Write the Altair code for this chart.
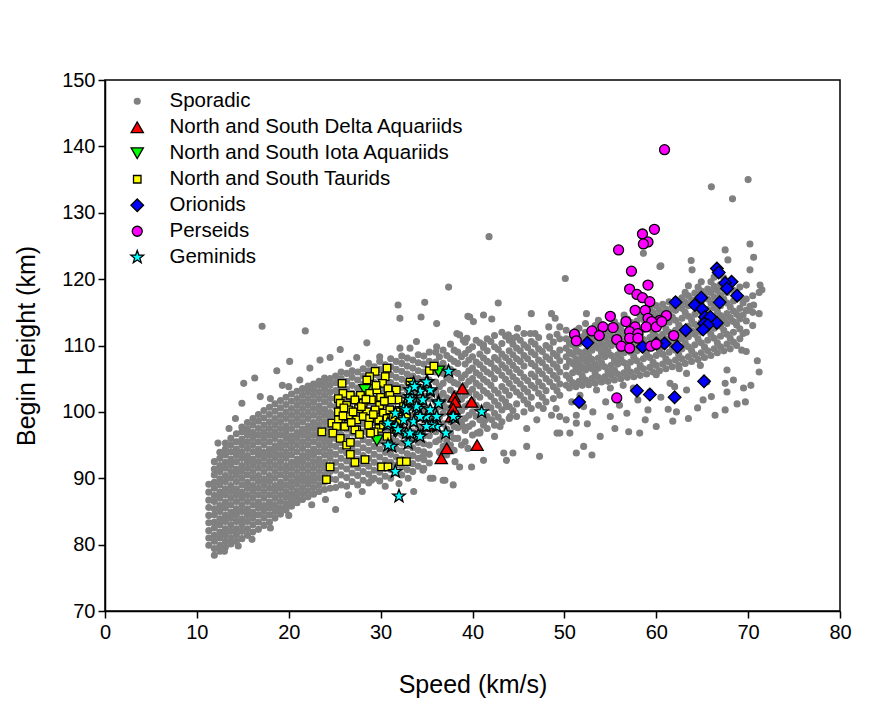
import altair as alt
import pandas as pd

# ------------------------------------------------------------------ data
# Sporadic meteors: dense core read column by column (speed -> heights)
SPORADIC_CORE = {
    11.3: [79.9, 81.0, 82.1, 83.3, 84.4, 85.6, 86.7, 87.9, 89.1],
    11.9: [78.4, 79.4, 80.5, 81.4, 82.5, 83.4, 84.5, 85.4, 86.5, 87.4, 88.5, 89.4, 90.5, 91.4, 92.5],
    12.5: [79.0, 79.9, 81.0, 81.9, 83.0, 83.9, 85.0, 85.9, 87.0, 87.9, 89.0, 89.9, 91.0, 91.9, 93.0, 93.9],
    13.1: [79.6, 80.5, 81.5, 82.4, 83.5, 84.4, 85.5, 86.4, 87.5, 88.4, 89.5, 90.4, 91.5, 92.4, 93.5, 94.4, 95.3],
    13.7: [80.1, 81.0, 82.0, 83.0, 84.0, 84.9, 86.0, 87.0, 88.0, 88.9, 90.0, 91.0, 92.0, 92.9, 94.0, 95.0, 96.0],
    14.3: [80.5, 81.5, 82.4, 83.5, 84.5, 85.4, 86.5, 87.5, 88.4, 89.5, 90.5, 91.4, 92.5, 93.5, 94.4, 95.5, 96.7],
    14.9: [80.9, 82.0, 83.0, 83.9, 85.0, 86.0, 87.0, 87.9, 89.0, 90.0, 91.0, 91.9, 93.0, 94.0, 95.0, 95.9, 97.0, 97.7],
    15.5: [81.4, 82.4, 83.5, 84.5, 85.4, 86.5, 87.5, 88.5, 89.4, 90.5, 91.5, 92.5, 93.4, 94.5, 95.5, 96.5, 97.4, 98.4],
    16.1: [81.9, 83.0, 84.0, 84.9, 86.0, 87.0, 88.0, 88.9, 90.0, 91.0, 92.0, 92.9, 94.0, 95.0, 96.0, 96.9, 98.0, 99.0],
    16.7: [82.3, 83.4, 84.5, 85.5, 86.4, 87.5, 88.5, 89.5, 90.4, 91.5, 92.5, 93.5, 94.4, 95.5, 96.5, 97.5, 98.6, 99.6],
    17.3: [82.9, 84.0, 85.0, 85.9, 87.0, 88.0, 89.0, 89.9, 91.0, 92.0, 93.0, 93.9, 95.0, 96.0, 97.0, 98.0, 99.1, 100.2],
    17.9: [83.4, 84.5, 85.5, 86.4, 87.5, 88.5, 89.5, 90.4, 91.5, 92.5, 93.5, 94.4, 95.5, 96.5, 97.5, 98.5, 99.6, 100.7],
    18.5: [84.0, 85.0, 86.0, 87.0, 88.0, 88.9, 90.0, 91.0, 92.0, 93.0, 94.0, 94.9, 96.0, 97.0, 98.0, 99.0, 100.1, 101.2],
    19.1: [84.6, 85.5, 86.5, 87.5, 88.5, 89.4, 90.5, 91.5, 92.5, 93.5, 94.5, 95.4, 96.5, 97.5, 98.5, 99.5, 100.6, 101.7],
    19.7: [85.2, 86.1, 87.1, 88.0, 89.0, 90.0, 91.0, 91.9, 93.0, 94.0, 95.0, 96.0, 97.0, 97.9, 99.0, 100.0, 101.1, 102.2],
    20.3: [85.8, 86.7, 87.6, 88.6, 89.5, 90.5, 91.5, 92.4, 93.5, 94.5, 95.5, 96.4, 97.5, 98.5, 99.5, 100.5, 101.6, 102.7],
    20.9: [86.3, 87.2, 88.1, 89.1, 90.0, 91.0, 92.0, 92.9, 94.0, 95.0, 96.0, 96.9, 98.0, 99.0, 100.0, 101.0, 102.0, 103.1],
    21.5: [86.8, 87.7, 88.6, 89.6, 90.5, 91.5, 92.5, 93.4, 94.5, 95.5, 96.5, 97.4, 98.5, 99.5, 100.5, 101.5, 102.5, 103.5],
    22.1: [87.2, 88.1, 89.1, 90.0, 91.0, 92.0, 93.0, 93.9, 95.0, 96.0, 97.0, 97.9, 99.0, 100.0, 101.0, 102.0, 103.0, 103.9],
    22.7: [87.6, 88.6, 89.6, 90.5, 91.5, 92.5, 93.5, 94.4, 95.5, 96.5, 97.5, 98.4, 99.5, 100.5, 101.5, 102.5, 103.4, 104.2],
    23.3: [88.0, 89.0, 90.0, 91.0, 92.0, 92.9, 94.0, 95.0, 96.0, 96.9, 98.0, 99.0, 100.0, 100.9, 102.0, 103.0, 104.0, 104.6],
    23.9: [88.3, 89.4, 90.5, 91.5, 92.4, 93.5, 94.5, 95.5, 96.4, 97.5, 98.5, 99.5, 100.4, 101.5, 102.5, 103.5, 104.4, 105.1],
    24.5: [88.5, 89.9, 91.0, 91.9, 93.0, 94.0, 95.0, 95.9, 97.0, 98.0, 99.0, 99.9, 101.0, 102.0, 103.0, 104.0, 105.0],
    25.1: [88.6, 89.8, 91.2, 92.4, 93.6, 94.8, 96.0, 97.2, 98.4, 99.6, 100.8, 102.0, 103.2, 104.4, 105.4],
    25.7: [89.0, 90.5, 91.8, 93.0, 94.2, 95.4, 96.6, 97.8, 99.0, 100.2, 101.4, 102.6, 103.8, 105.0, 106.0],
    26.3: [88.8, 90.1, 91.4, 92.6, 93.8, 95.0, 96.2, 97.4, 98.6, 99.8, 101.0, 102.2, 103.4, 104.6, 105.8],
    26.9: [89.5, 90.8, 92.0, 93.2, 94.4, 95.6, 96.8, 98.0, 99.2, 100.4, 101.6, 102.8, 104.0, 105.2, 106.2],
    27.5: [89.0, 90.4, 91.6, 92.8, 94.0, 95.2, 96.4, 97.6, 98.8, 100.0, 101.2, 102.4, 103.6, 104.8, 106.0],
    28.1: [89.7, 91.0, 92.2, 93.4, 94.6, 95.8, 97.0, 98.2, 99.4, 100.6, 101.8, 103.0, 104.2, 105.4, 106.5],
    28.7: [89.3, 90.6, 91.8, 93.0, 94.2, 95.4, 96.6, 97.8, 99.0, 100.2, 101.4, 102.6, 103.8, 105.0, 106.2, 107.3],
    29.3: [90.0, 91.2, 92.4, 93.6, 94.8, 96.0, 97.2, 98.4, 99.6, 100.8, 102.0, 103.2, 104.4, 105.6, 106.8],
    29.9: [89.6, 90.9, 92.0, 93.2, 94.4, 95.6, 96.8, 98.0, 99.2, 100.4, 101.6, 102.8, 104.0, 105.2, 106.4, 107.6],
    30.5: [90.3, 91.5, 92.7, 93.9, 95.1, 96.3, 97.5, 98.7, 99.9, 101.1, 102.3, 103.5, 104.7, 105.9, 107.1],
    31.1: [90.0, 91.3, 92.4, 93.6, 94.8, 96.0, 97.2, 98.4, 99.6, 100.8, 102.0, 103.2, 104.4, 105.6, 106.8, 108.0],
    31.7: [90.8, 92.0, 93.2, 94.4, 95.6, 96.8, 98.0, 99.2, 100.4, 101.6, 102.8, 104.0, 105.2, 106.4, 107.6],
    32.3: [90.5, 91.7, 92.9, 94.1, 95.3, 96.5, 97.7, 98.9, 100.1, 101.3, 102.5, 103.7, 104.9, 106.1, 107.3, 108.4],
    32.9: [91.3, 92.5, 93.7, 94.9, 96.1, 97.3, 98.5, 99.7, 100.9, 102.1, 103.3, 104.5, 105.7, 106.9, 108.1],
    33.5: [91.0, 92.2, 93.4, 94.6, 95.8, 97.0, 98.2, 99.4, 100.6, 101.8, 103.0, 104.2, 105.4, 106.6, 107.8],
    34.1: [91.8, 93.0, 94.2, 95.4, 96.6, 97.8, 99.0, 100.2, 101.4, 102.6, 103.8, 105.0, 106.2, 107.4, 108.6],
    34.7: [91.5, 92.8, 94.0, 95.2, 96.4, 97.6, 98.8, 100.0, 101.2, 102.4, 103.6, 104.8, 106.0, 107.2, 108.4],
    35.3: [92.3, 93.6, 95.0, 96.4, 97.8, 99.2, 100.6, 102.0, 103.4, 104.8, 106.2, 107.6, 109.0],
}

# Sporadic meteors: looser middle band (speed -> heights)
SPORADIC_MID = {
    36.0: [95.5, 97.0, 98.5, 100.0, 101.5, 103.0, 104.5, 106.0, 107.5, 109.0],
    36.4: [94.0, 95.8, 99.2, 100.8, 102.3, 103.8, 106.8, 108.3],
    36.8: [94.8, 96.5, 98.2, 99.8, 101.3, 102.8, 104.3, 105.8, 107.3, 109.3],
    37.2: [93.5, 95.6, 97.4, 100.6, 102.1, 105.1, 106.6, 108.5],
    37.6: [95.0, 96.8, 98.5, 100.2, 101.8, 103.3, 104.8, 106.4, 108.0, 110.2],
    38.0: [94.2, 96.0, 97.8, 99.5, 102.8, 104.4, 106.0, 107.6, 109.3],
    38.4: [96.0, 97.6, 99.3, 101.0, 102.6, 104.2, 105.8, 107.3, 109.0],
    38.8: [95.0, 98.5, 100.2, 101.9, 103.5, 105.1, 108.3],
    39.2: [95.5, 97.2, 99.0, 100.8, 102.5, 104.0, 105.6, 107.2, 108.8, 110.5],
    39.6: [97.8, 99.5, 101.2, 102.9, 104.6, 106.2, 107.8, 109.4],
    40.0: [96.5, 98.2, 100.0, 101.7, 103.4, 105.0, 106.6, 108.3, 109.8],
    40.4: [99.3, 101.0, 102.6, 104.3, 105.9, 107.5, 110.8],
    40.8: [97.0, 98.8, 100.5, 102.2, 103.9, 105.5, 107.1, 108.7, 110.4],
    41.2: [98.0, 99.8, 103.2, 104.9, 106.5, 108.1, 109.7],
    41.6: [97.5, 99.3, 101.0, 102.8, 104.5, 106.0, 107.6, 109.2, 111.0],
    42.0: [100.6, 102.3, 104.0, 105.7, 107.3, 110.6],
    42.4: [98.0, 99.8, 101.6, 103.3, 105.0, 106.6, 108.2, 109.8, 111.5],
    42.8: [99.2, 101.0, 102.8, 106.2, 107.8, 109.4],
    43.2: [98.5, 100.3, 102.0, 103.8, 105.5, 107.1, 108.7, 110.3, 112.0],
    43.6: [101.5, 103.2, 104.9, 106.6, 108.2, 111.4],
    44.0: [99.0, 100.8, 102.5, 104.3, 106.0, 107.6, 109.2, 110.8],
    44.4: [100.2, 103.6, 105.3, 107.0, 108.6, 110.2],
    44.8: [99.3, 101.2, 103.0, 104.7, 106.4, 108.0, 109.6, 111.3],
    45.2: [102.5, 104.2, 105.9, 107.6, 109.2, 110.8],
    45.6: [100.0, 101.8, 103.5, 105.2, 106.9, 108.5, 110.1, 111.8],
    46.0: [101.2, 103.0, 104.7, 108.0, 109.7],
    46.4: [100.5, 102.2, 104.0, 105.7, 107.3, 109.0, 110.6],
    46.8: [103.6, 105.3, 106.9, 108.6, 110.2, 111.8],
    47.2: [101.0, 102.8, 104.5, 106.2, 107.8, 109.5, 111.2],
    47.6: [102.2, 103.9, 105.7, 107.4, 109.1],
    48.0: [101.5, 103.2, 105.0, 106.7, 108.3, 110.0],
    48.4: [104.5, 106.2, 107.9, 109.6, 111.3],
    48.8: [102.0, 103.8, 105.5, 107.2, 108.8, 110.5],
    49.2: [103.2, 105.0, 106.7, 108.4, 111.7],
    49.5: [102.5, 104.2, 106.0, 107.7, 109.3, 111.0],
}

# Sporadic meteors: fast band (speed -> heights)
SPORADIC_FAST = {
    50.2: [104.0, 105.5, 106.8, 108.3, 109.6, 111.0, 112.3],
    50.55: [103.6, 105.0, 107.6, 109.0, 110.4],
    50.9: [104.4, 105.9, 107.3, 108.7, 110.1, 111.4],
    51.25: [103.8, 106.7, 108.0, 109.5, 112.2],
    51.6: [104.6, 106.0, 107.5, 109.0, 110.3, 112.6],
    51.95: [104.0, 105.4, 106.8, 108.3, 111.3],
    52.3: [104.8, 106.3, 107.7, 109.1, 110.6, 112.0, 113.3],
    52.65: [104.1, 107.0, 108.4, 109.9, 111.4],
    53.0: [105.0, 106.5, 107.9, 109.3, 110.8, 112.2],
    53.35: [104.3, 105.8, 107.2, 110.1, 111.5, 113.0],
    53.7: [105.2, 106.6, 108.1, 109.6, 111.0, 112.5, 113.8],
    54.05: [104.5, 107.4, 108.9, 110.3, 113.2],
    54.4: [105.3, 106.8, 108.3, 109.7, 111.2, 112.6],
    54.75: [104.6, 106.1, 109.1, 110.5, 112.0],
    55.1: [105.5, 107.0, 108.5, 110.0, 111.4, 112.9, 114.2],
    55.45: [104.8, 106.3, 107.8, 110.7, 113.6],
    55.8: [105.7, 107.2, 108.6, 110.1, 111.6, 113.0],
    56.15: [105.0, 108.0, 109.4, 110.9, 112.4],
    56.5: [105.9, 107.4, 108.9, 110.3, 111.8, 113.3, 114.6],
    56.85: [105.2, 106.7, 109.6, 111.1, 114.0],
    57.2: [106.0, 107.5, 109.0, 110.5, 112.0, 113.5],
    57.55: [105.3, 108.3, 109.8, 111.3, 112.8],
    57.9: [106.2, 107.7, 109.2, 110.7, 112.2, 113.7, 115.0],
    58.25: [105.5, 107.0, 110.0, 111.5, 114.5],
    58.6: [106.5, 108.0, 109.4, 110.9, 112.4, 113.9],
    58.95: [105.7, 108.7, 110.2, 113.2, 114.7],
    59.3: [106.7, 108.2, 109.7, 111.2, 112.7, 114.1, 115.5],
    59.65: [106.0, 107.5, 110.5, 112.0, 115.0],
    60.0: [107.0, 108.5, 110.0, 111.4, 112.9, 114.4, 116.0],
    60.35: [106.2, 109.3, 110.8, 113.8, 115.3],
    60.7: [107.2, 108.7, 110.2, 111.7, 113.2, 114.7, 116.2],
    61.05: [106.5, 108.0, 111.0, 112.5, 115.5],
    61.4: [107.5, 109.0, 110.5, 112.0, 113.5, 115.0, 116.6],
    61.75: [106.8, 109.8, 111.3, 114.3, 115.9],
    62.1: [107.8, 109.3, 110.8, 112.3, 113.8, 115.3, 116.9],
    62.45: [107.0, 108.6, 111.6, 113.1, 116.2],
    62.8: [108.0, 109.5, 111.0, 112.6, 114.1, 115.6, 117.2],
    63.15: [107.3, 110.4, 111.9, 115.0, 116.5, 118.0],
    63.5: [108.3, 109.8, 111.3, 112.9, 114.4, 116.0, 117.5, 119.0],
    63.85: [107.6, 109.2, 112.2, 113.8, 116.9],
    64.2: [108.6, 110.1, 111.7, 113.2, 114.7, 116.3, 117.9],
    64.55: [107.9, 111.0, 112.6, 115.6, 117.2, 118.8],
    64.9: [108.9, 110.4, 112.0, 113.5, 115.0, 116.6, 118.2, 119.6],
    65.25: [108.2, 109.8, 112.9, 114.4, 117.6],
    65.6: [109.2, 110.8, 112.3, 113.8, 115.4, 117.0, 118.5],
    65.95: [108.5, 111.7, 113.2, 116.4, 118.0, 119.6],
    66.3: [109.5, 111.1, 112.6, 114.2, 115.7, 117.3, 118.9, 120.3],
    66.65: [108.9, 110.4, 113.6, 115.1, 118.3],
    67.0: [109.8, 111.4, 112.9, 114.5, 116.0, 117.6, 119.2],
    67.35: [109.2, 112.3, 113.9, 117.0, 118.6, 120.2],
    67.7: [110.2, 111.7, 113.3, 114.8, 116.4, 118.0, 119.6],
    68.05: [109.5, 111.1, 114.2, 115.8, 119.0],
    68.4: [110.5, 112.0, 113.6, 115.2, 116.7, 118.3],
    68.75: [110.0, 113.1, 114.7, 117.9],
    69.1: [111.0, 112.5, 114.0, 115.6, 117.2, 118.8],
    69.45: [111.8, 114.6, 116.4],
    69.8: [112.0, 113.7, 115.3, 117.0],
    70.5: [113.0, 115.0, 117.5],
    71.2: [114.8, 118.0],
}

# Sporadic meteors: isolated points (speed, height)
SPORADIC_SCATTER = [
    (17.1, 112.9), (21.8, 112.2), (28.5, 110.4), (25.6, 109.4), (20.1, 107.6), (23.4, 107.8),
    (24.5, 108.2), (18.7, 106.2), (16.3, 105.1), (22.3, 106.6), (27.4, 108.2), (29.9, 108.3),
    (32.1, 109.6), (33.2, 109.6), (16.9, 102.3), (18.0, 102.0), (15.1, 104.3), (14.9, 101.3),
    (12.3, 95.3), (20.0, 103.8), (21.2, 104.8), (13.5, 97.5), (14.2, 99.0), (19.3, 104.0),
    (26.5, 107.3), (31.9, 116.1), (32.1, 114.1), (34.4, 114.3), (34.8, 116.5), (36.1, 113.3),
    (37.4, 118.8), (39.5, 114.4), (41.2, 114.6), (40.1, 113.6), (38.3, 111.8), (39.0, 110.8),
    (41.2, 110.1), (36.1, 109.8), (33.9, 110.6), (41.8, 126.4), (50.1, 120.1), (42.8, 116.4),
    (39.7, 114.3), (42.1, 114.0), (46.4, 114.8), (48.6, 114.8), (49.0, 114.1), (44.9, 112.6),
    (46.3, 111.8), (48.3, 112.8), (49.5, 112.8), (52.4, 114.8), (38.6, 111.6), (39.4, 111.1),
    (43.9, 111.6), (44.4, 111.1),
    (25.1, 85.3), (22.1, 89.2), (29.0, 89.7), (33.6, 88.0), (33.0, 90.0), (34.6, 91.2),
    (35.7, 90.0), (37.0, 89.7), (37.9, 89.0), (38.1, 92.5), (39.9, 91.7), (41.2, 92.7),
    (40.5, 96.8), (41.4, 98.8), (39.0, 97.8), (39.5, 94.5), (36.5, 93.8), (34.6, 93.3),
    (13.0, 79.0), (14.5, 79.8), (16.0, 80.8), (18.0, 82.5), (20.0, 84.4), (22.5, 86.0),
    (24.0, 86.8), (26.5, 87.5), (28.0, 88.0), (30.5, 88.8), (32.0, 89.2), (43.4, 93.8),
    (44.4, 93.8), (45.9, 94.8), (47.3, 93.3), (43.7, 92.7), (38.6, 91.7), (35.4, 90.0),
    (36.8, 89.7), (52.1, 94.8), (51.3, 93.8), (53.0, 93.5), (42.4, 96.3), (40.8, 96.8),
    (45.9, 97.5), (49.2, 96.8), (50.6, 96.8), (51.3, 98.3), (42.1, 98.8), (43.0, 97.8),
    (44.1, 99.3), (47.0, 98.8), (48.6, 99.5), (49.5, 99.3), (50.2, 98.8), (51.3, 99.5),
    (52.1, 100.8), (47.7, 100.5), (41.5, 101.0), (43.7, 100.8),
    (70.0, 135.0), (66.0, 133.9), (68.3, 132.1), (67.5, 124.4), (70.2, 125.3), (70.6, 123.3),
    (67.8, 122.9), (63.8, 122.8), (60.4, 121.9), (70.2, 121.4), (71.3, 119.1), (71.5, 118.4),
    (69.8, 119.1), (70.2, 115.9), (70.6, 116.1), (70.0, 115.3), (69.1, 114.3), (69.3, 109.3),
    (69.8, 109.1), (71.0, 107.7), (69.7, 101.5), (67.5, 100.3), (66.4, 99.5), (63.5, 99.0),
    (63.9, 121.4), (62.2, 100.0), (61.3, 100.4), (59.1, 100.3), (60.0, 97.8), (58.2, 96.8),
    (57.0, 97.0), (53.9, 96.3), (49.5, 96.8), (49.1, 100.5), (59.3, 103.0), (63.3, 103.3),
    (65.1, 101.8), (67.7, 103.0), (68.4, 104.8), (69.5, 103.6), (67.7, 106.3), (67.5, 104.3),
    (63.3, 105.8), (60.0, 105.6), (61.5, 104.3), (55.0, 103.6), (53.5, 103.3), (51.7, 102.5),
    (56.4, 104.0), (57.5, 103.6), (56.8, 99.8), (55.0, 99.3), (53.1, 100.0), (54.5, 101.5),
    (58.0, 101.8), (60.5, 102.2), (62.0, 103.8), (64.5, 100.6), (66.0, 102.3), (68.8, 101.2),
    (70.3, 104.0), (71.2, 106.0), (65.5, 104.5), (61.8, 98.6), (58.8, 98.8), (56.0, 101.0),
    (52.5, 98.2), (55.5, 97.5), (50.8, 101.5), (64.8, 107.0), (62.5, 106.5), (58.6, 123.9),
    (60.5, 122.0),
]

DELTA_AQUARIIDS = [
    (38.9, 103.5), (38.0, 102.3), (38.1, 101.5), (39.9, 101.5), (37.9, 100.5),
    (37.7, 99.3), (35.1, 97.9), (37.2, 94.5), (36.6, 93.0), (40.5, 95.0),
]

IOTA_AQUARIIDS = [
    (36.3, 106.1), (29.6, 95.7), (28.3, 103.3), (31.6, 97.0), (26.1, 99.4),
]

TAURIDS = [
    (30.7, 106.6), (29.4, 106.1), (30.5, 105.3), (28.8, 105.3), (28.5, 104.8), (25.8, 104.3),
    (30.2, 104.3), (31.7, 103.3), (25.9, 102.8), (30.8, 103.5), (25.4, 102.0), (26.7, 102.5),
    (27.8, 102.5), (28.8, 102.8), (29.6, 103.3), (31.0, 102.5), (31.9, 101.8), (25.6, 101.3),
    (26.3, 101.0), (27.2, 101.8), (28.1, 101.3), (29.0, 101.8), (29.9, 101.0), (31.2, 101.8),
    (25.4, 100.0), (26.5, 100.3), (27.6, 100.5), (28.5, 100.0), (29.4, 100.3), (30.3, 99.8),
    (31.0, 100.3), (31.9, 100.0), (24.7, 98.3), (25.4, 98.8), (26.5, 99.3), (27.4, 98.8),
    (28.1, 99.3), (28.8, 99.0), (29.8, 98.8), (30.7, 99.0), (25.2, 97.8), (26.1, 97.8),
    (27.4, 97.3), (28.7, 98.0), (29.8, 97.5), (23.6, 97.0), (24.8, 96.8), (25.6, 96.0),
    (27.2, 97.3), (26.3, 95.0), (26.7, 95.4), (26.7, 93.6), (27.2, 92.4), (28.3, 92.8),
    (24.5, 91.7), (24.1, 89.8), (30.1, 91.7), (30.8, 91.7), (32.2, 92.5), (32.8, 92.5),
    (29.3, 97.0), (30.7, 96.3), (33.2, 104.5), (35.3, 106.2), (35.8, 106.9), (32.5, 100.8),
    (32.8, 99.3), (27.0, 100.0), (27.9, 100.8), (28.4, 101.9), (26.0, 100.6), (29.2, 99.6),
    (30.0, 102.2), (31.4, 99.2), (26.8, 98.4), (27.7, 96.6), (28.9, 96.8), (30.3, 98.0),
    (25.9, 99.4), (29.5, 104.0), (30.4, 101.6), (32.0, 98.4), (31.5, 97.4), (33.0, 101.6),
]

ORIONIDS = [
    (66.6, 121.6), (66.8, 121.0), (68.2, 119.6), (67.5, 119.4), (67.7, 118.6), (68.8, 117.5),
    (62.1, 116.5), (64.9, 117.2), (64.2, 116.1), (66.9, 116.5), (65.0, 115.5), (65.3, 114.3),
    (65.9, 114.3), (66.6, 113.4), (65.2, 113.3), (65.6, 113.1), (65.1, 112.4), (63.2, 112.3),
    (62.3, 109.8), (60.9, 110.3), (60.0, 110.3), (58.5, 109.8), (52.5, 110.4), (65.2, 104.6),
    (57.9, 103.2), (59.3, 102.6), (62.0, 102.2), (51.6, 101.5),
]

PERSEIDS = [
    (60.9, 139.5), (59.8, 127.5), (58.5, 126.8), (59.1, 125.6), (58.6, 125.3), (55.9, 124.4),
    (57.3, 121.2), (59.1, 119.1), (57.1, 118.5), (57.9, 117.7), (58.5, 117.2), (59.3, 116.6),
    (57.7, 115.3), (58.8, 115.3), (55.0, 114.4), (61.1, 114.5), (60.4, 113.8), (56.7, 113.6),
    (59.1, 114.1), (59.5, 113.6), (54.2, 112.8), (55.3, 112.7), (57.7, 112.8), (58.9, 112.8),
    (60.0, 112.8), (53.0, 112.2), (57.1, 112.1), (58.0, 111.8), (53.8, 111.5), (51.1, 111.7),
    (51.3, 110.7), (61.9, 111.5), (55.7, 110.9), (57.1, 111.1), (58.0, 111.1), (56.2, 109.9),
    (57.1, 109.6), (59.4, 109.9), (60.0, 110.2), (55.7, 102.1), (60.6, 113.6),
]

GEMINIDS = [
    (37.4, 106.1), (35.1, 104.5), (33.6, 104.3), (34.3, 103.1), (36.3, 101.5), (41.0, 100.0),
    (38.1, 99.0), (33.2, 102.3), (32.5, 100.5), (31.6, 99.8), (34.1, 100.5), (35.0, 99.3),
    (36.1, 97.8), (37.1, 96.8), (34.1, 96.5), (33.0, 95.3), (31.2, 94.8), (30.7, 98.0),
    (31.7, 97.8), (33.6, 98.5), (31.6, 91.0), (32.0, 87.3), (35.6, 98.0), (35.4, 103.1),
    (33.2, 103.3), (34.6, 101.8), (32.8, 96.8), (37.9, 99.3), (34.3, 96.3), (30.8, 98.3),
    (32.5, 98.8), (32.8, 100.3), (34.3, 99.3), (35.4, 100.3), (36.3, 101.3), (35.4, 103.3),
    (33.7, 103.8), (35.0, 104.5), (36.1, 99.3), (33.9, 100.8), (33.2, 101.8), (31.9, 97.3),
    (33.2, 96.8), (35.0, 97.8), (30.8, 95.0),
]

TYPES = [
    "Sporadic",
    "North and South Delta Aquariids",
    "North and South Iota Aquariids",
    "North and South Taurids",
    "Orionids",
    "Perseids",
    "Geminids",
]
FILLS = ["#808080", "#ff0000", "#00ff00", "#ffff00", "#0000ff", "#ff00ff", "#00ffff"]
STROKES = ["#808080", "#000000", "#000000", "#000000", "#000000", "#000000", "#000000"]
STAR = ("M0,-1L0.24,-0.33L0.95,-0.31L0.39,0.13L0.59,0.81L0,0.42"
        "L-0.59,0.81L-0.39,0.13L-0.95,-0.31L-0.24,-0.33Z")
SHAPES = ["circle", "triangle-up", "triangle-down", "square", "diamond", "circle", STAR]
SIZES = [34, 150, 150, 56, 160, 100, 180]

# ------------------------------------------------------------------ table
rows = []
for group in (SPORADIC_CORE, SPORADIC_MID, SPORADIC_FAST):
    for sx, heights in group.items():
        for h in heights:
            rows.append({"spd": sx, "hgt": h, "shower": TYPES[0]})
for sx, h in SPORADIC_SCATTER:
    rows.append({"spd": sx, "hgt": h, "shower": TYPES[0]})
for name, pts in zip(TYPES[1:], [DELTA_AQUARIIDS, IOTA_AQUARIIDS, TAURIDS, ORIONIDS, PERSEIDS, GEMINIDS]):
    for sx, h in pts:
        rows.append({"spd": sx, "hgt": h, "shower": name})
df = pd.DataFrame(rows)
df["rank"] = df["shower"].map({t: i for i, t in enumerate(TYPES)})

FONT = "Liberation Sans"
leg = alt.Legend(
    title=None, orient="none", legendX=22, legendY=11, padding=0,
    labelFont=FONT, labelFontSize=20.5, labelColor="black", labelOffset=22,
    rowPadding=5, symbolStrokeWidth=1.3, labelLimit=500,
)

chart = (
    alt.Chart(df)
    .mark_point(filled=True, opacity=1, strokeWidth=1.3)
    .encode(
        x=alt.X(
            "spd:Q",
            scale=alt.Scale(domain=[0, 80], nice=False, zero=False),
            axis=alt.Axis(
                orient="bottom",
                values=[0, 10, 20, 30, 40, 50, 60, 70, 80], title="Speed (km/s)",
                grid=False, tickSize=7, labelPadding=4, labelFontSize=20, titleFontSize=25,
                titlePadding=30, labelFlush=False,
            ),
        ),
        y=alt.Y(
            "hgt:Q",
            scale=alt.Scale(domain=[70, 150], nice=False, zero=False),
            axis=alt.Axis(
                orient="left",
                values=[70, 80, 90, 100, 110, 120, 130, 140, 150], title="Begin Height (km)",
                grid=False, tickSize=7, labelPadding=3, labelFontSize=20, titleFontSize=25,
                titlePadding=22, labelFlush=False,
            ),
        ),
        fill=alt.Fill("shower:N", scale=alt.Scale(domain=TYPES, range=FILLS), legend=leg),
        stroke=alt.Stroke("shower:N", scale=alt.Scale(domain=TYPES, range=STROKES), legend=leg),
        shape=alt.Shape("shower:N", scale=alt.Scale(domain=TYPES, range=SHAPES), legend=leg),
        size=alt.Size("shower:N", scale=alt.Scale(type="ordinal", domain=TYPES, range=SIZES), legend=leg),
        order=alt.Order("rank:Q"),
    )
    .properties(
        width=735, height=531,
        padding={"left": 105, "top": 80, "right": 46, "bottom": 94},
        autosize=alt.AutoSizeParams(type="none"),
        background="white",
    )
    .configure_view(stroke="black", strokeWidth=1.5)
    .configure_axis(
        domainColor="black", domainWidth=1.5, tickColor="black", tickWidth=1.5,
        labelFont=FONT, titleFont=FONT, labelColor="black", titleColor="black",
        titleFontWeight="normal",
    )
)

chart.save("out.html", embed_options={"renderer": "svg", "actions": False})
